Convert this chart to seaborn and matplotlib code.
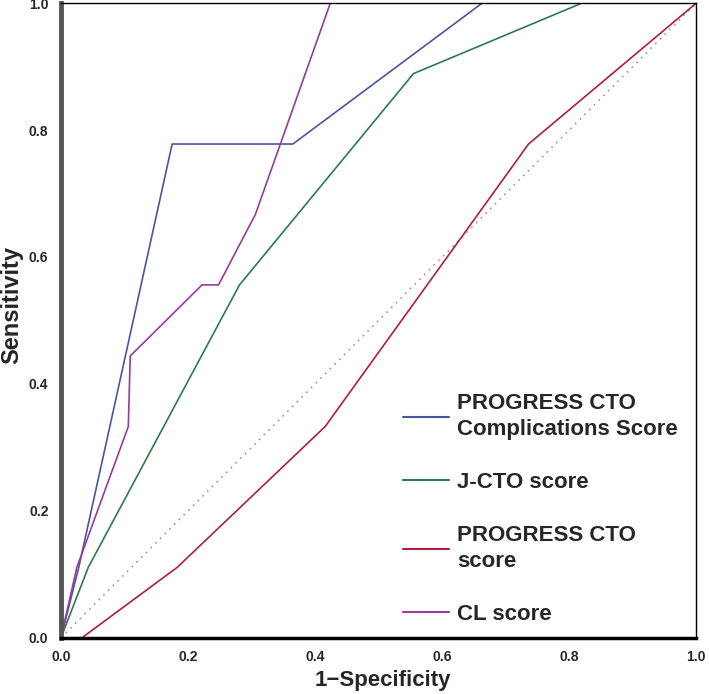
import numpy as np
import pandas as pd
import matplotlib
matplotlib.use("Agg")
import matplotlib.pyplot as plt
import seaborn as sns

# ROC points
prog_comp_fpr = [0.0, 0.028, 0.175, 0.365, 0.663]
prog_comp_tpr = [0.0, 0.111, 0.778, 0.778, 1.0]

jcto_fpr = [0.0, 0.043, 0.281, 0.555, 0.82]
jcto_tpr = [0.0, 0.111, 0.556, 0.889, 1.0]

prog_fpr = [0.0, 0.033, 0.183, 0.416, 0.736, 1.0]
prog_tpr = [0.0, 0.0, 0.111, 0.333, 0.778, 1.0]

cl_fpr = [0.0, 0.025, 0.106, 0.109, 0.222, 0.248, 0.306, 0.424]
cl_tpr = [0.0, 0.111, 0.333, 0.444, 0.556, 0.556, 0.667, 1.0]

labels = ["PROGRESS CTO\nComplications Score", "J-CTO score",
          "PROGRESS CTO\nscore", "CL score"]
colors = ["#4a55a2", "#2f7a4c", "#b01e3e", "#9a3a9e"]

frames = []
for lab, fx, ty in zip(labels, [prog_comp_fpr, jcto_fpr, prog_fpr, cl_fpr],
                       [prog_comp_tpr, jcto_tpr, prog_tpr, cl_tpr]):
    frames.append(pd.DataFrame({"fpr": fx, "tpr": ty, "score": lab}))
df = pd.concat(frames, ignore_index=True)

sns.set_style("white")
plt.rcParams['font.family'] = ['Liberation Sans', 'DejaVu Sans']

fig = plt.figure(figsize=(7.09, 6.94), dpi=100)
ax = fig.add_axes([0.086, 0.081, 0.896, 0.9145])

ax.plot([0, 1], [0, 1], color="#999999", linestyle=(0, (1, 3)), linewidth=1.2)
sns.lineplot(data=df, x="fpr", y="tpr", hue="score", hue_order=labels,
             palette=colors, sort=False, estimator=None, linewidth=1.2, ax=ax)

ax.set_xlim(0, 1)
ax.set_ylim(0, 1)
ticks = [0.0, 0.2, 0.4, 0.6, 0.8, 1.0]
ax.set_xticks(ticks)
ax.set_yticks(ticks)
ax.set_xticklabels([f"{t:.1f}" for t in ticks], fontweight="bold", fontsize=10)
ax.set_yticklabels([f"{t:.1f}" for t in ticks], fontweight="bold", fontsize=10)
ax.tick_params(axis="both", length=3, width=1, direction="out", pad=6)
ax.set_xlabel("1\u2212Specificity", fontweight="bold", fontsize=16)
ax.set_ylabel("Sensitivity", fontweight="bold", fontsize=17)
ax.xaxis.set_label_coords(0.506, -0.05)
ax.yaxis.set_label_coords(-0.059, 0.524)

for s in ["top", "right"]:
    ax.spines[s].set_linewidth(1.0)
    ax.spines[s].set_color("black")
ax.spines["left"].set_linewidth(3.5)
ax.spines["left"].set_color("#555555")
ax.spines["bottom"].set_linewidth(2.5)
ax.spines["bottom"].set_color("black")

leg = ax.legend(loc="lower left", bbox_to_anchor=(0.507, -0.011), frameon=False,
                prop={"weight": "bold", "size": 16}, labelspacing=1.43,
                handlelength=2.05, handletextpad=0.4)
for line in leg.get_lines():
    line.set_linewidth(1.5)
for t in leg.get_texts():
    t.set_linespacing(1.33)

fig.savefig("out.png", dpi=100)
